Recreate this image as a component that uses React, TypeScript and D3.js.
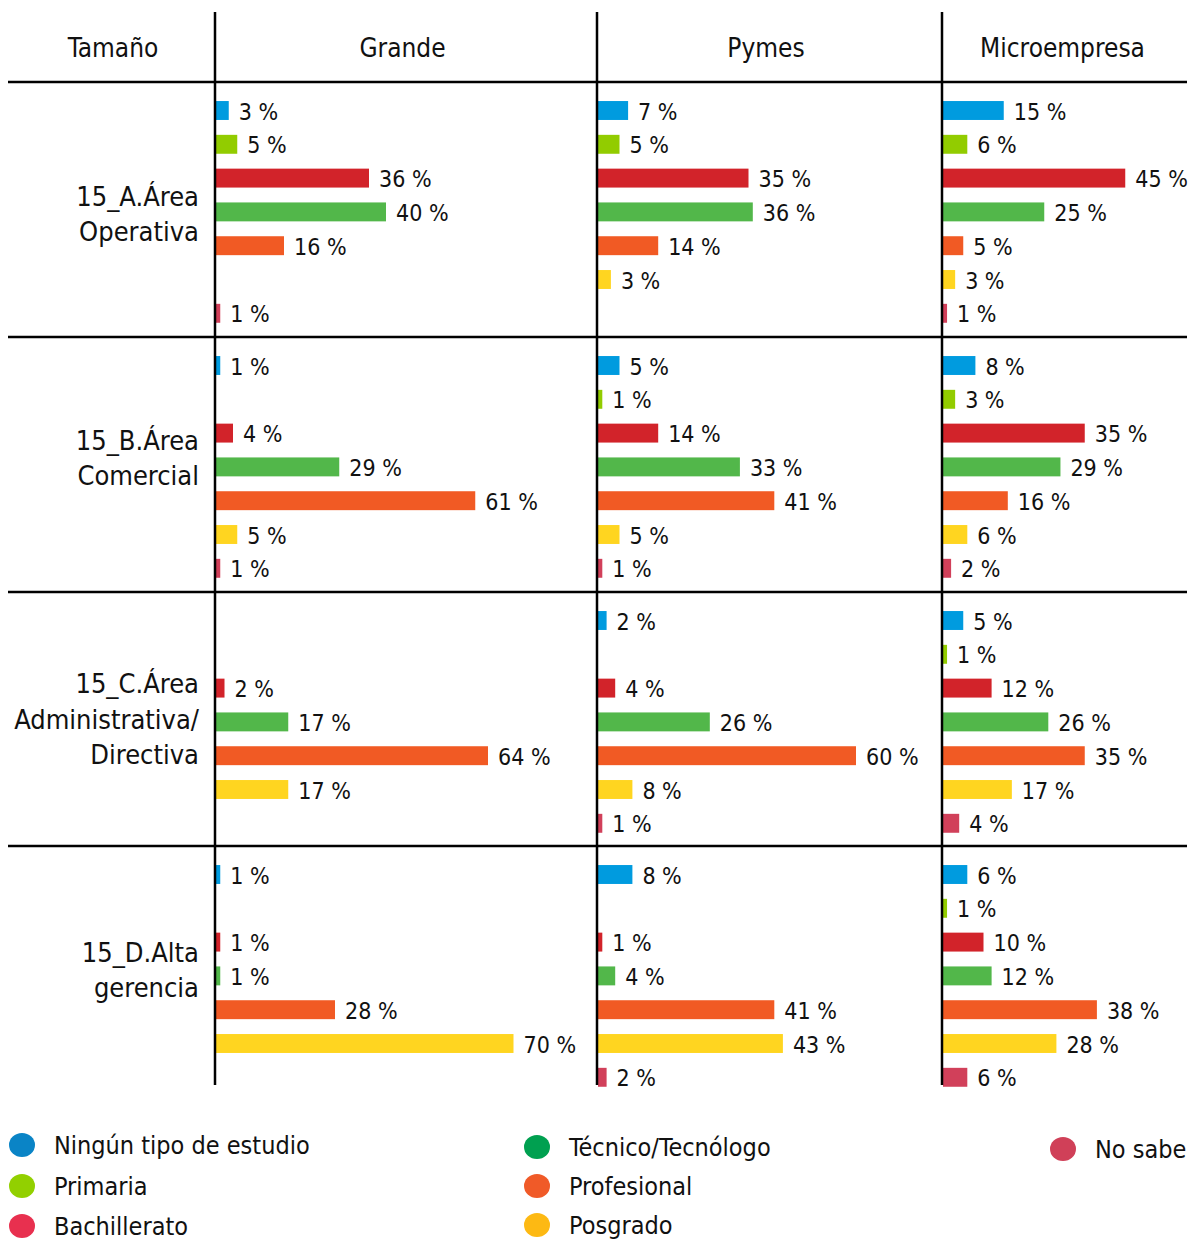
import React from "react";
import * as d3 from "d3";

const sizes = ["Grande", "Pymes", "Microempresa"];
const areas = [
  ["15_A.Área", "Operativa"],
  ["15_B.Área", "Comercial"],
  ["15_C.Área", "Administrativa/", "Directiva"],
  ["15_D.Alta", "gerencia"],
];
const series = [
  "Ningún tipo de estudio",
  "Primaria",
  "Bachillerato",
  "Técnico/Tecnólogo",
  "Profesional",
  "Posgrado",
  "No sabe",
];
const barColors = ["#009bdf", "#92cc00", "#d2232a", "#52b74a", "#f15a24", "#ffd520", "#d1405a"];
const legendColors = ["#0a84c6", "#92d000", "#e8304f", "#00a050", "#f05a28", "#fdb913", "#d04058"];

// values[size][area][series] (0 = not shown)
const grande = [
  [3, 5, 36, 40, 16, 0, 1],
  [1, 0, 4, 29, 61, 5, 1],
  [0, 0, 2, 17, 64, 17, 0],
  [1, 0, 1, 1, 28, 70, 0],
];
const pymes = [
  [7, 5, 35, 36, 14, 3, 0],
  [5, 1, 14, 33, 41, 5, 1],
  [2, 0, 4, 26, 60, 8, 1],
  [8, 0, 1, 4, 41, 43, 2],
];
const micro = [
  [15, 6, 45, 25, 5, 3, 1],
  [8, 3, 35, 29, 16, 6, 2],
  [5, 1, 12, 26, 35, 17, 4],
  [6, 1, 10, 12, 38, 28, 6],
];
const values = [grande, pymes, micro];

const W = 1190;
const H = 1241;
const FONT = "'DejaVu Sans Condensed', 'DejaVu Sans', sans-serif";
const FS = 22;
const FS_BIG = 26;

const colX = [216, 598, 943];
const colRight = [597, 942, 1190];
const colPxPerHundred = [425, 430, 405];
const headerY = 48;
const rowTops = [82, 337, 592, 846];
const rowLabelOffset = [132, 121, 127, 124];

export default function App() {
  const xs = colPxPerHundred.map((w) => d3.scaleLinear().domain([0, 100]).range([0, w]));
  const band = d3
    .scaleBand<number>()
    .domain(d3.range(series.length))
    .range([11.6, 11.6 + 7 * 33.8])
    .paddingInner(0.44)
    .paddingOuter(0.22);

  const legendCols = [
    { x: 22, items: [0, 1, 2], ys: [1145, 1186, 1226] },
    { x: 537, items: [3, 4, 5], ys: [1147, 1186, 1225] },
    { x: 1063, items: [6], ys: [1149] },
  ];

  return (
    <div style={{ position: "absolute", left: 0, top: 0 }}>
      <svg width={W} height={H} style={{ display: "block", background: "#fff" }} fontFamily={FONT}>
        {/* header */}
        <text x={113} y={headerY} fontSize={FS_BIG} textAnchor="middle" dominantBaseline="central" fill="#111">
          Tamaño
        </text>
        {sizes.map((s, i) => (
          <text
            key={s}
            x={(colX[i] + colRight[i]) / 2 - 4}
            y={headerY}
            fontSize={FS_BIG}
            textAnchor="middle"
            dominantBaseline="central"
            fill="#111"
          >
            {s}
          </text>
        ))}

        {/* row labels */}
        {areas.map((lines, r) => {
          const cy = rowTops[r] + rowLabelOffset[r];
          return lines.map((l, k) => (
            <text
              key={r + "-" + k}
              x={199}
              y={cy + (k - (lines.length - 1) / 2) * 35.5}
              fontSize={FS_BIG + 1}
              textAnchor="end"
              dominantBaseline="central"
              fill="#111"
            >
              {l}
            </text>
          ));
        })}

        {/* bars */}
        {values.map((sizeVals, c) =>
          sizeVals.map((row, r) =>
            row.map((v, s) => {
              if (!v) return null;
              const y = rowTops[r] + (band(s) as number);
              const bw = xs[c](v);
              return (
                <g key={c + "-" + r + "-" + s}>
                  <rect x={colX[c]} y={y} width={bw} height={band.bandwidth()} fill={barColors[s]} />
                  <text
                    x={colX[c] + bw + 10}
                    y={y + band.bandwidth() / 2 + 1}
                    fontSize={FS + 1}
                    dominantBaseline="central"
                    fill="#111"
                  >
                    {v + " %"}
                  </text>
                </g>
              );
            })
          )
        )}

        {/* grid lines */}
        {[215, 597, 942].map((lx) => (
          <line key={lx} x1={lx} x2={lx} y1={12} y2={1085} stroke="#000" strokeWidth={2.5} />
        ))}
        {rowTops.map((ly) => (
          <line key={ly} x1={8} x2={1187} y1={ly} y2={ly} stroke="#000" strokeWidth={2.5} />
        ))}

        {/* legend */}
        {legendCols.map((col, ci) =>
          col.items.map((si, k) => (
            <g key={ci + "-" + k}>
              <ellipse cx={col.x} cy={col.ys[k]} rx={13} ry={12} fill={legendColors[si]} />
              <text x={col.x + 32} y={col.ys[k]} fontSize={FS_BIG - 1} dominantBaseline="central" fill="#111">
                {series[si]}
              </text>
            </g>
          ))
        )}
      </svg>
    </div>
  );
}
